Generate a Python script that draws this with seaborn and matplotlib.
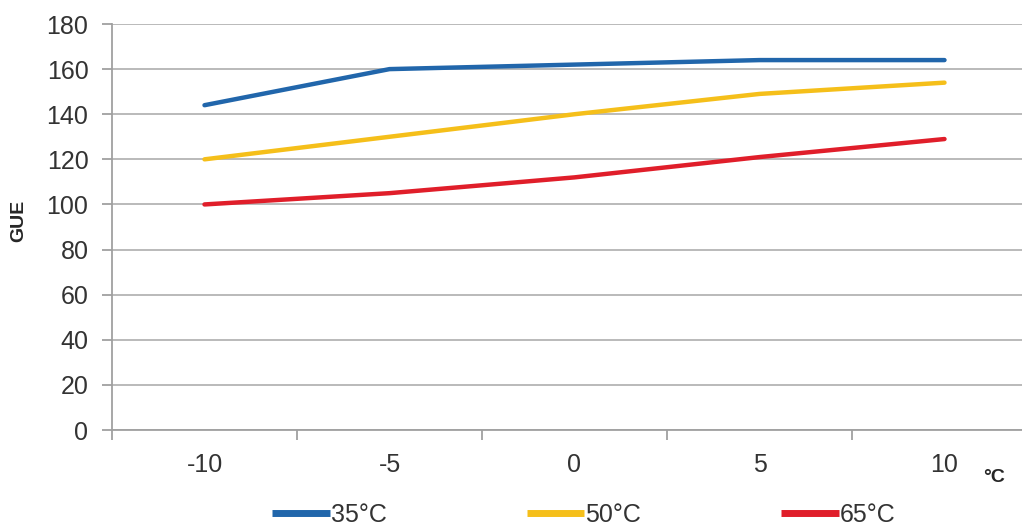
import pandas as pd
import matplotlib
matplotlib.use('Agg')
import matplotlib.pyplot as plt
import seaborn as sns

# Data
temps = ['-10', '-5', '0', '5', '10']
gue_35 = [144, 160, 162, 164, 164]
gue_50 = [120, 130, 140, 149, 154]
gue_65 = [100, 105, 112, 121, 129]
series = ['35°C', '50°C', '65°C']
colors = ['#2166ab', '#f5bf1a', '#e01e2a']

df = pd.DataFrame({
    'temp': temps * 3,
    'GUE': gue_35 + gue_50 + gue_65,
    'series': [s for s in series for _ in temps],
})

sns.set_style('white')
plt.rcParams['font.family'] = ['Liberation Sans', 'DejaVu Sans']

fig = plt.figure(figsize=(10.22, 5.31), dpi=100)
ax = fig.add_axes([112 / 1022, 1 - 430 / 531, (1022 - 112) / 1022, (430 - 24) / 531])

sns.lineplot(data=df, x='temp', y='GUE', hue='series', palette=colors,
             linewidth=3.2, sort=False, ax=ax, legend=True)

ax.set_ylim(0, 180)
ax.set_yticks(range(0, 181, 20))
ax.set_xlim(-0.5, -0.5 + (1022 - 112) / 185)
ax.set_xticks(range(len(temps)))
ax.set_xticklabels(temps)
ax.set_xticks([i + 0.5 for i in range(-1, 4)], minor=True)
ax.yaxis.grid(True, color='#b4b4b4', linewidth=1.3)
ax.set_axisbelow(True)

for side in ['top', 'right']:
    ax.spines[side].set_visible(False)
for side in ['left', 'bottom']:
    ax.spines[side].set_color('#a0a0a0')
    ax.spines[side].set_linewidth(1.3)

ax.tick_params(axis='y', which='major', left=True, length=7, width=1.3,
               color='#a0a0a0', labelsize=18, labelcolor='#333333', pad=10)
ax.tick_params(axis='x', which='major', bottom=False, labelsize=18,
               labelcolor='#333333', pad=13)
ax.tick_params(axis='x', which='minor', bottom=True, length=7, width=1.3,
               color='#a0a0a0')

ax.set_xlabel('')
ax.set_ylabel('')
fig.text(19 / 1022, 1 - 221 / 531, 'GUE', rotation=90, fontsize=14,
         fontweight='bold', ha='center', va='center')
fig.text(994 / 1022, 1 - 478 / 531, '°C', fontsize=14, fontweight='bold',
         ha='center', va='center')

handles, labels = ax.get_legend_handles_labels()
ax.get_legend().remove()
for h in handles:
    h.set_linewidth(5)
    h.set_solid_capstyle('butt')
fig.legend(handles, labels, loc='center', bbox_to_anchor=(584 / 1022, 1 - 515 / 531),
           ncol=3, frameon=False, fontsize=18, handlelength=2.3,
           handletextpad=0.05, columnspacing=5.6, labelcolor='#333333')

fig.savefig('out.png', dpi=100)
